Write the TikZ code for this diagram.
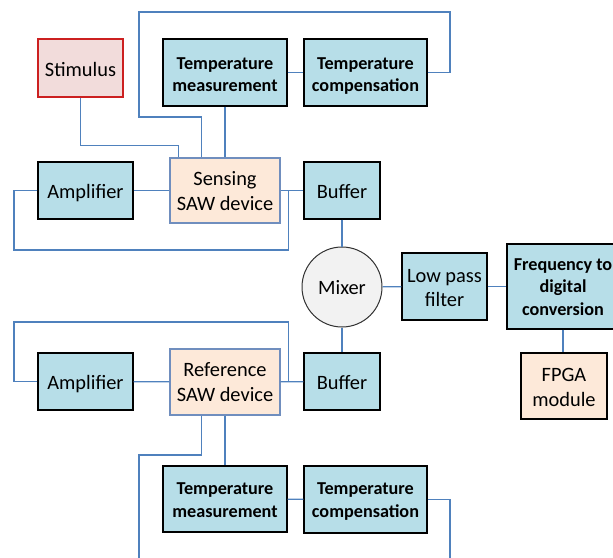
\documentclass[tikz,border=0pt]{standalone}
\usepackage{fontspec}
\setmainfont{Carlito}
\definecolor{boxcyan}{HTML}{B7DEE8}
\definecolor{boxpeach}{HTML}{FDE9D9}
\definecolor{boxpink}{HTML}{F2DCDB}
\definecolor{stimred}{RGB}{204,32,32}
\definecolor{wireblue}{RGB}{79,129,189}
\definecolor{sawedge}{RGB}{112,142,190}
\begin{document}
\begin{tikzpicture}[x=1pt, y=-1pt,
    main node/.style={rectangle, draw=black, line width=1.3pt, fill=boxcyan, align=center, inner sep=0pt, text height=36.3pt, text depth=20.7pt, font=\fontsize{20.4}{24.7}\selectfont},
    bold node/.style={main node, text height=52.7pt, text depth=14.3pt, font=\fontsize{18.2}{22.5}\selectfont\bfseries},
    saw node/.style={main node, draw=sawedge, fill=boxpeach, text height=52pt, text depth=13pt},
    wire/.style={draw=wireblue, line width=1.2pt}]
                \useasboundingbox (0,0) rectangle (613,557);

                  \node[main node, draw=stimred, fill=boxpink, minimum width=85pt, text height=37pt, text depth=21pt] (1) at (80.5,68) {Stimulus};
                  \node[bold node, minimum width=124pt] (2) at (225,72.5) {Temperature\\measurement};
                  \node[bold node, minimum width=123pt] (3) at (365.5,72.5) {Temperature\\compensation};
                  \node[main node, minimum width=95pt] (4) at (85.5,190.5) {Amplifier};
                  \node[saw node, minimum width=110pt] (5) at (225,190.5) {Sensing\\SAW device};
                  \node[main node, minimum width=76pt] (6) at (342,190.5) {Buffer};
                  \node[main node, circle, fill={rgb,255:red,242;green,242;blue,242}, draw={rgb,255:red,50;green,50;blue,50}, line width=1pt, text height=14.6pt, text depth=0pt, minimum size=80pt] (7) at (342,287) {Mixer};
                  \node[main node, minimum width=85pt, text height=53.7pt, text depth=13.3pt] (8) at (444.5,286.5) {Low pass\\filter};
                  \node[bold node, minimum width=112pt, text height=71pt, text depth=14pt] (9) at (563,286.5) {Frequency to\\digital\\conversion};
                  \node[main node, fill=boxpeach, minimum width=86pt, text height=53pt, text depth=13pt] (10) at (564,386) {FPGA\\module};
                  \node[main node, minimum width=95pt] (11) at (85.5,381.5) {Amplifier};
                  \node[saw node, minimum width=110pt, text depth=14pt] (12) at (225,382) {Reference\\SAW device};
                  \node[main node, minimum width=76pt] (13) at (342,381.5) {Buffer};
                  \node[bold node, minimum width=124pt, text height=51.3pt, text depth=14.7pt] (14) at (225,499) {Temperature\\measurement};
                  \node[bold node, minimum width=123pt, text height=51.3pt, text depth=15.7pt] (15) at (365.5,499.5) {Temperature\\compensation};

                  % straight wires
                  \path[wire]
                    (2) edge (3)
                    (2) edge (5)
                    (4) edge (5)
                    (5) edge (6)
                    (6) edge (7)
                    (7) edge (8)
                    (8) edge (9)
                    (9.south) edge (10.north -| 9.south)
                    (7) edge (13)
                    (11) edge (12)
                    (12) edge (13)
                    (12) edge (14)
                    (14) edge (15);

                  % sensing branch loops
                  \draw[wire] (3.east) -| (450,12) -| (139,117) -| ([xshift=32pt]5.north west);
                  \draw[wire] (1.south) -- ++(0,48) -| ([xshift=9pt]5.north west);
                  \draw[wire] (4.west) -| (14,250) -| ([xshift=-15pt]6.west);

                  % reference branch loops
                  \draw[wire] (11.west) -| (14,322) -| ([xshift=-15pt]13.west);
                  \draw[wire] ([xshift=32pt]12.south west) |- (139,455) -- (139,570);
                  \draw[wire] (15.east) -| (450,570);

                \end{tikzpicture}
\end{document}
